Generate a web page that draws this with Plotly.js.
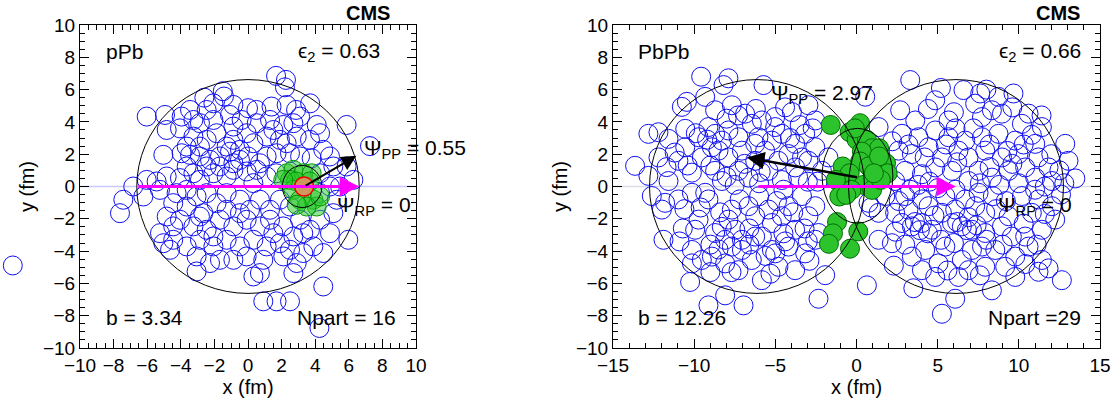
<!DOCTYPE html>
<html><head><meta charset="utf-8">
<script src="https://cdn.plot.ly/plotly-3.0.1.min.js"></script>
<style>body{margin:0;background:#fff}#c{width:1117px;height:401px}</style>
</head><body><div id="c"></div>
<script>
// ---------- pPb panel ----------
const pPbBlueX = [1.67,2.26,2.2,-1.5,-1.43,-2.6,-2.06,-0.87,0,0.5,1.4,2.3,3.7,2.86,3.1,-3.45,-3.95,-3.25,-6.03,-4.94,-4.84,-4.05,-2.86,-2.06,-1.07,-0.38,0.52,1.31,2.1,2.7,4.09,4.29,5.87,-2.46,-1.87,-0.87,-0.08,0.32,1.11,1.9,2.9,3.69,4.48,7.26,-5.04,-3.95,-3.45,-2.86,-2.26,-1.67,-1.07,-0.87,0,0.71,1.11,1.7,2.5,3.1,3.79,5.08,5.87,-6.03,-4.84,-4.05,-3.25,-2.86,-2.06,-1.27,-0.87,-0.08,0.52,1.11,6.27,5.48,-6.83,-7.42,-7.62,-6.23,-5.24,-4.25,-4.45,-3.65,-3.06,-2.66,-1.87,-1.27,-0.48,0.12,0.71,1.31,1.9,2.5,5.08,5.28,4.29,-4.84,-4.05,-3.25,-2.46,-1.67,-0.87,-0.08,0.71,1.31,2.1,3.1,3.69,4.88,5.97,-5.24,-5.04,-4.64,-4.45,-3.65,-2.86,-2.06,-1.27,-0.48,0.32,1.11,1.9,2.5,3.29,3.89,4.48,-3.06,-2.26,-1.67,-0.87,-0.08,0.91,2.1,2.9,-3.06,0.32,0.71,2.7,4.48,0.91,1.7,2.5,4.25,-5.44,-3.65,-2.46,-1.67,-0.48,0.32,-1.27,-2.46,-3.65,-0.48,-2.86,-2.06,1.51,2.7,-2.46,-0.87,1.51,2.3,-3.25,-3.65,-2.86,-1.27,-0.48,1.69,4.29,4.88,4.29,4.88,-4.45,3.29];
const pPbBlueY = [6.85,6.6,6.14,5.9,5.57,5.5,5.15,5.05,4.85,4.74,4.95,5.05,5.15,4.74,4.33,4.74,4.33,4.12,4.33,4.43,3.5,3.6,3.92,4.12,4.43,4.12,3.92,4.12,3.81,3.92,3.81,3.3,3.81,2.89,3.3,2.89,3.3,2.68,3.09,2.89,3.09,2.89,2.27,2.5,1.96,2.06,1.96,1.86,1.65,1.86,2.16,1.44,1.86,1.44,1.86,2.06,2.06,1.86,1.75,1.24,1.24,0.41,0.62,0.52,0.82,0.41,0.82,0.62,1.03,0.93,1.03,0.62,0.41,0,0,-0.82,-1.65,-0.62,-0.21,-0.41,-1.03,-1.24,-0.62,-1.65,-1.03,-1.44,-0.82,-1.44,-0.82,-1.44,-0.82,-1.24,-1.65,-0.82,-2.06,-1.86,-2.06,-2.47,-2.68,-2.06,-2.47,-2.06,-2.47,-2.06,-2.47,-2.06,-2.68,-2.89,-3.3,-2.89,-3.51,-3.92,-3.3,-3.71,-3.3,-3.71,-3.3,-3.71,-3.3,-3.71,-3.51,-3.92,-4.12,-3.71,-4.12,-4.33,-4.74,-4.54,-4.54,-4.33,-4.54,-4.33,-4.74,-5.26,-5.57,-5.36,-5.36,-6.19,-7.11,-7.11,-7.11,-8.76,0.31,1.24,1.24,1.24,1.65,0.21,-0.41,-0.41,-0.21,-1.65,-1.86,-3.09,-2.89,-3.09,4.74,3.71,3.5,2.68,3.09,2.47,2.47,2.47,2.27,0.82,0.82,1.86,-0.41,0,-2.47,-2.89];
// nucleon drawn outside the pPb frame (left of the axis)
const pPbStrayX = [-14.0];
const pPbStrayY = [-4.89];
const pPbGreenX = [2.3,2.7,3.3,3.79,2.5,2.86,3.67,2.7,3.1,3.89,4.09,3.49,2.9,4.29,2.1];
const pPbGreenY = [0.82,1.03,0.82,0.82,0.41,0.31,0.31,-0.21,-0.82,-0.82,-1.24,-1.24,-1.13,-0.62,0.41];
const pPbProton = [3.34, 0];
const pPbPsiPPArrow = [3.34, 0, 6.45, 1.9];
const pPbPsiRPArrow = [-6.62, 0, 6.62, 0];
const pPbNucleus = [0, 0, 6.62];
const pPbProtonRing = [2.05, -1.3, 4.4, 1.3];

// ---------- PbPb panel ----------
const PbPbBlueX = [-9.57,-7.89,-8.19,-5.73,-10.45,-10.76,-9.32,-8.71,-7.68,-6.86,-5.83,-5.01,-3.98,-2.96,-2.54,-12.2,-11.58,-10.55,-10.55,-9.73,-8.71,-8.29,-7.89,-7.27,-6.45,-6.04,-5.21,-4.6,-3.78,-3.16,-2.54,-13.64,-12.82,-12.2,-10.97,-10.14,-9.53,-8.91,-8.71,-7.89,-7.06,-7.27,-6.24,-5.63,-5.42,-4.19,-3.78,-2.96,-2.13,-4.81,-6.65,-8.29,-11.58,-9.12,-8.5,-6.24,-3.36,-5.01,-12.82,-1.73,
 -12.61,-11.79,-11.99,-10.97,-10.14,-9.12,-9.73,-9.94,-11.89,-7.89,-7.47,-7.06,-7.68,-7.06,-10.14,-9.53,-10.14,-8.91,-8.09,-10.25,-7.27,-6.45,-5.83,-5.01,-4.81,-3.78,-6.65,-6.24,-5.42,-5.21,-4.6,-4.19,-3.78,-3.36,-2.96,-2.54,-2.34,-1.93,-2.34,-9.12,-8.09,-6.96,-9.32,-8.71,-5.83,-5.21,-7.68,-6.24,-8.09,-4.19,-3.16,-2.54,
 3.31,0.54,6.59,7.62,8.75,9.67,4.85,2.69,3.62,5.67,7.73,8.34,7.31,10.6,11.42,12.86,1.36,2.8,3.82,4.85,5.67,6.7,7.73,8.75,9.78,11.01,2.59,3.41,4.44,5.26,6.28,6.9,7.93,8.96,9.98,11.21,11.83,13.06,3.0,4.03,4.85,5.88,7.52,8.34,9.37,10.39,11.01,2.38,6.9,12.04,10.19,8.96,
 0.64,5.26,6.08,8.34,9.78,11.21,11.83,12.65,1.36,2.18,3.41,4.23,4.03,5.05,5.47,6.49,7.11,7.73,8.55,6.9,7.93,9.16,9.78,10.6,9.57,10.39,11.42,12.24,2.8,3.41,4.03,4.64,5.88,6.49,7.11,7.93,8.96,2.38,3.2,4.44,5.26,6.08,7.31,7.93,9.37,10.8,11.21,12.04,0.74,1.36,1.77,3.0,4.03,5.47,6.7,7.52,10.19,6.28,11.42,4.85,
 3.8,5.0,7.6,8.8,10.0,11.6,12.8,13.48,-7.5,-6.0,-4.5,-3.0,3.6,3.9,6.2,6.8,7.4,4.4,0.9,
 -9.9,-9.2,-8.0,-7.3,-6.2,-4.4,-3.5,-4.1,-2.7,-11.2,-11.7,-10.4,-9.0,-8.0,-6.9,-5.9,-4.6,-3.6,-2.4,-10.6,-9.6,-8.4,-7.2,-6.0,-4.9,-3.9,-3.2,-4.5,-6.6,-8.3,-10.7,-10.9,-9.0,-8.5,-6.6,-5.6,-4.4,-3.0,-7.7,-5.3,-9.0,-2.9,
 2.2,3.2,4.2,5.5,6.1,7.2,8.2,9.3,10.3,10.8,12.0,12.5,9.6,8.2,6.2,4.5,3.3,6.1,8.4,9.2,11.0,12.6,2.6,4.8,6.9,8.6,10.3,11.6,2.4,5.2,6.0,8.0,9.0,11.1,3.0,2.3,5.6,7.6,10.4,4.4,6.0,9.6,11.4,5.2,8.0,3.5];
const PbPbBlueY = [6.8,6.7,6.28,6.28,5.24,4.93,5.55,4.72,5.03,4.51,4.09,4.3,4.61,5.03,4.09,3.36,2.95,3.57,2.43,3.05,3.26,2.84,3.47,3.05,3.88,3.05,2.84,3.26,2.64,3.26,2.43,1.28,0.66,1.8,1.59,0.86,1.8,2.43,0.97,1.8,2.22,0.97,1.59,2.22,0.97,2.01,1.18,1.59,0.97,1.59,0.55,0.34,0.34,3.68,2.22,2.64,1.8,3.68,3.26,1.8,
 -0.59,-1.01,-1.43,-0.8,-0.39,-0.8,-2.05,-2.68,-3.3,-2.05,-2.68,-3.3,-3.72,-3.93,-3.93,-4.55,-4.76,-4.34,-4.76,-5.91,-5.18,-4.55,-5.8,-4.14,-4.97,-5.18,-1.22,-1.84,-1.43,-2.26,-1.84,-1.22,-2.68,-0.59,-1.84,-1.22,-2.88,-5.49,-6.95,-7.36,-6.74,-7.36,-0.39,-2.88,-3.1,-3.93,-1.43,-3.1,-3.3,-3.72,-4.14,-3.3,
 6.59,5.56,5.97,5.76,5.55,5.76,5.34,4.72,4.09,4.09,4.3,4.72,5.13,4.51,3.68,2.64,3.68,3.26,3.05,3.47,3.05,2.84,3.05,3.26,2.84,2.64,2.22,2.01,2.43,1.8,2.22,1.8,2.22,1.8,2.01,1.8,1.18,1.59,0.97,0.76,1.18,0.97,0.97,0.55,0.97,1.18,0.55,0.34,0.34,0.34,3.88,4.51,
 -6.12,-7.88,-6.95,-6.43,-5.6,-5.28,-5.07,-5.8,-3.3,-3.51,-4.34,-3.93,-5.18,-4.76,-3.72,-4.55,-3.93,-3.72,-3.93,-5.18,-4.97,-4.97,-4.34,-3.72,-3.1,-3.1,-2.68,-2.05,-2.26,-2.47,-2.26,-2.68,-2.26,-2.47,-2.68,-2.88,-2.47,-1.63,-1.43,-1.22,-1.63,-1.43,-1.22,-1.63,-1.84,-1.63,-0.8,-1.22,-1.01,-1.63,-0.59,-0.59,-0.8,-0.59,-0.8,-0.39,-0.59,-5.6,-4.55,-5.6,
 0.1,-0.1,0.2,0.1,0.2,0.0,0.2,0.5,0.1,0.2,-0.2,0.3,-2.2,-2.7,-2.2,-2.7,-2.4,-2.9,-1.3,
 3.3,2.9,4.2,4.4,4.8,4.9,3.8,3.0,3.6,2.1,1.2,1.3,1.3,0.6,1.4,0.9,0.4,0.6,0.3,-1.4,-1.3,-1.6,-0.8,-0.6,-0.9,-1.6,-2.6,-2.9,-2.6,-2.5,-2.6,-3.4,-3.6,-3.9,-3.6,-4.3,-3.4,-3.4,-5.3,-5.4,-5.3,-4.6,
 2.8,2.6,1.8,2.6,3.6,3.6,2.6,2.2,2.6,3.2,2.0,1.0,1.4,1.2,1.5,0.3,-0.2,-0.2,-0.6,-0.9,-0.2,-0.5,-0.9,-1.8,-1.9,-1.4,-2.3,-1.7,-2.8,-3.3,-3.5,-3.3,-3.6,-3.6,-3.6,-4.9,-5.2,-5.5,-4.8,4.8,4.6,4.9,4.4,6.1,6.0,-6.3];
const PbPbGreenX = [-1.59,0.22,-0.42,0.01,0.64,0.96,1.39,0.33,0.22,0.75,1.82,1.92,-0.85,-0.42,-1.27,0.43,0.96,-0.31,-1.06,-0.63,1.5,-1.2,-1.45,-1.7,0.11,-0.4,1.39,-0.1,1.07];
const PbPbGreenY = [3.81,3.92,3.36,2.89,2.89,2.37,2.37,2.16,1.55,1.24,1.44,0.82,1.24,0.82,0.41,0.1,-0.21,-0.21,-0.62,-0.52,0.41,-2.2,-2.9,-3.55,-2.78,-3.85,1.86,3.6,0.82];
const PbPbPsiPPArrow = [0.12, 0.55, -6.75, 1.8];
const PbPbPsiRPArrow = [-6.13, 0, 6.13, 0];
const PbPbNucleusA = [-6.13, 0, 6.62];
const PbPbNucleusB = [6.13, 0, 6.62];
const PbPbEllipse = [-2.12, -2.27, 2.24, 3.6];

const font = 'Liberation Sans, Arial, sans-serif';
const blueMarker = {symbol:'circle-open', size:19, color:'#1010f0', line:{width:1}};

const traces = [
  {x:pPbBlueX, y:pPbBlueY, xaxis:'x', yaxis:'y', mode:'markers', marker:blueMarker, hoverinfo:'skip'},
  {x:pPbStrayX, y:pPbStrayY, xaxis:'x3', yaxis:'y', mode:'markers', marker:blueMarker, hoverinfo:'skip', cliponaxis:false},
  {x:pPbGreenX, y:pPbGreenY, xaxis:'x', yaxis:'y', mode:'markers', marker:{symbol:'circle', size:19, color:'rgba(40,200,40,0.5)', line:{width:1, color:'rgb(0,150,0)'}}, hoverinfo:'skip'},
  {x:[pPbProton[0]], y:[pPbProton[1]], xaxis:'x', yaxis:'y', mode:'markers', marker:{symbol:'circle', size:19, color:'rgba(215,150,95,0.95)', line:{width:1.5, color:'rgb(240,0,0)'}}, hoverinfo:'skip'},
  {x:PbPbBlueX, y:PbPbBlueY, xaxis:'x2', yaxis:'y2', mode:'markers', marker:blueMarker, hoverinfo:'skip'},
  {x:PbPbGreenX, y:PbPbGreenY, xaxis:'x2', yaxis:'y2', mode:'markers', marker:{symbol:'circle', size:19, color:'rgb(45,195,45)', line:{width:1, color:'rgb(0,110,0)'}}, hoverinfo:'skip'}
];

function circ(xr, yr, c, r){ return {type:'circle', xref:xr, yref:yr, x0:c[0]-r, x1:c[0]+r, y0:c[1]-r, y1:c[1]+r, line:{color:'black', width:1}}; }
function box(xr, yr, b){ return {type:'circle', xref:xr, yref:yr, x0:b[0], y0:b[1], x1:b[2], y1:b[3], line:{color:'black', width:1}}; }

const shapes = [
  {type:'line', xref:'x domain', yref:'y', x0:0, x1:1, y0:0, y1:0, line:{color:'rgb(200,200,255)', width:1.5}, layer:'below'},
  {type:'line', xref:'x2 domain', yref:'y2', x0:0, x1:1, y0:0, y1:0, line:{color:'rgb(220,220,230)', width:1.5}, layer:'below'},
  circ('x','y',pPbNucleus,pPbNucleus[2]),
  box('x','y',pPbProtonRing),
  circ('x2','y2',PbPbNucleusA,PbPbNucleusA[2]),
  circ('x2','y2',PbPbNucleusB,PbPbNucleusB[2]),
  box('x2','y2',PbPbEllipse)
];

function arrow(xr, yr, a, color, w, s){
  return {xref:xr, yref:yr, axref:xr, ayref:yr, ax:a[0], ay:a[1], x:a[2], y:a[3], text:'', showarrow:true, arrowhead:2, arrowsize:s, arrowwidth:w, arrowcolor:color};
}
function txt(xr, yr, x, y, t, anchor){
  return {xref:xr, yref:yr, x:x, y:y, text:t, showarrow:false, xanchor:anchor, yanchor:'middle', font:{family:font, size:21, color:'black'}};
}

const annotations = [
  arrow('x','y',pPbPsiRPArrow,'#ff00ff',3,1.3),
  arrow('x','y',pPbPsiPPArrow,'black',2,1.5),
  arrow('x2','y2',PbPbPsiRPArrow,'#ff00ff',3,1.3),
  arrow('x2','y2',PbPbPsiPPArrow,'black',2.5,1.4),
  txt('x','y',-8.6,8.35,'pPb','left'),
  txt('x','y',7.95,8.35,'ϵ<sub>2</sub> = 0.63','right'),
  txt('x','y',-8.6,-8.14,'b = 3.34','left'),
  txt('x','y',8.9,-8.14,'Npart = 16','right'),
  txt('x','y',6.8,2.3,'Ψ<sub>PP</sub> = 0.55','left'),
  txt('x','y',5.2,-1.2,'Ψ<sub>RP</sub> = 0','left'),
  txt('x2','y2',-13.6,8.35,'PbPb','left'),
  txt('x2','y2',13.95,8.35,'ϵ<sub>2</sub> = 0.66','right'),
  txt('x2','y2',-13.6,-8.14,'b = 12.26','left'),
  txt('x2','y2',13.95,-8.14,'Npart =29','right'),
  txt('x2','y2',-5.4,5.7,'Ψ<sub>PP</sub> = 2.97','left'),
  txt('x2','y2',8.6,-1.2,'Ψ<sub>RP</sub> = 0','left'),
  {xref:'paper', yref:'paper', x:368/1117, y:1+12/323, text:'<b>CMS</b>', showarrow:false, xanchor:'center', yanchor:'middle', font:{family:font, size:20, color:'black'}},
  {xref:'paper', yref:'paper', x:1058/1117, y:1+12/323, text:'<b>CMS</b>', showarrow:false, xanchor:'center', yanchor:'middle', font:{family:font, size:20, color:'black'}}
];

function axis(range, dtick, minor, domain, title, anchor){
  return {domain:domain, range:range, dtick:dtick, tick0:0, anchor:anchor, showline:true, linecolor:'black', linewidth:1, mirror:'ticks',
    ticks:'inside', ticklen:9, tickwidth:1, tickcolor:'black', zeroline:false, showgrid:false, fixedrange:true,
    minor:{ticks:'inside', ticklen:5, dtick:minor, tickcolor:'black', showgrid:false},
    tickfont:{family:font, size:19, color:'black'}, title:{text:title, font:{family:font, size:20, color:'black'}, standoff:2}};
}

const layout = {
  width:1117, height:401, margin:{l:0, r:0, t:25, b:53}, paper_bgcolor:'white', plot_bgcolor:'rgba(0,0,0,0)', showlegend:false,
  xaxis: axis([-10,10],2,0.5,[80/1117,416/1117],'x (fm)','y'),
  yaxis: axis([-10,10],2,0.5,[0,1],'y (fm)','x'),
  xaxis2: axis([-15,15],5,1,[613/1117,1100/1117],'x (fm)','y2'),
  yaxis2: axis([-10,10],2,0.5,[0,1],'y (fm)','x2'),
  // hidden axis sharing the pPb scale (16.8 px/fm) but extending to the page edge
  xaxis3: {domain:[0,416/1117], range:[-10-80/16.8,10], visible:false, anchor:'y', fixedrange:true, showgrid:false, zeroline:false},
  shapes:shapes, annotations:annotations
};

Plotly.newPlot('c', traces, layout, {staticPlot:true, displayModeBar:false});
</script></body></html>
